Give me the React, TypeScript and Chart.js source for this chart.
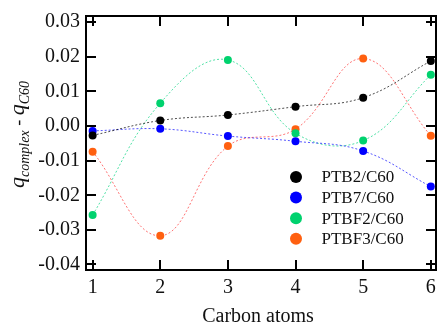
import React, { useEffect, useRef } from "react";
import { Chart, registerables } from "chart.js";

Chart.register(...registerables);

const carbonAtoms = [1, 2, 3, 4, 5, 6];
const ptb2 = [-0.0027, 0.0016, 0.0032, 0.0056, 0.0082, 0.0188];
const ptb7 = [-0.0014, -0.0008, -0.0029, -0.0044, -0.0072, -0.0175];
const ptbf2 = [-0.0257, 0.0066, 0.0191, -0.0021, -0.0042, 0.0148];
const ptbf3 = [-0.0074, -0.0317, -0.0058, -0.0009, 0.0195, -0.0028];

const seriesLabels = ["PTB2/C60", "PTB7/C60", "PTBF2/C60", "PTBF3/C60"];
const seriesValues = [ptb2, ptb7, ptbf2, ptbf3];
const pointColors = ["#000000", "#0000ff", "#00d26e", "#ff6010"];
const lineColors = [
  "rgba(0,0,0,0.7)",
  "rgba(30,30,255,0.75)",
  "rgba(50,220,150,0.85)",
  "rgba(255,80,80,0.8)",
];

const xTicks = [1, 2, 3, 4, 5, 6];
const yTicks = [-0.04, -0.03, -0.02, -0.01, 0, 0.01, 0.02, 0.03];
const xTitle = "Carbon atoms";

const SERIF = "'Liberation Serif', 'Times New Roman', serif";

const decorPlugin = {
  id: "decor",
  afterDatasetsDraw(chart: any) {
    const { ctx, chartArea } = chart;
    const { left, right, top, bottom } = chartArea;
    const xs = chart.scales.x;
    const ys = chart.scales.y;
    ctx.save();
    ctx.strokeStyle = "#000";
    ctx.lineWidth = 2;
    // inward ticks
    const tl = 10;
    ctx.beginPath();
    for (const v of xTicks) {
      const px = Math.round(xs.getPixelForValue(v));
      ctx.moveTo(px, bottom);
      ctx.lineTo(px, bottom - tl);
      ctx.moveTo(px, top);
      ctx.lineTo(px, top + tl);
    }
    for (const v of yTicks) {
      const py = Math.round(ys.getPixelForValue(v));
      ctx.moveTo(left, py);
      ctx.lineTo(left + tl, py);
      ctx.moveTo(right, py);
      ctx.lineTo(right - tl, py);
    }
    ctx.stroke();
    // frame
    ctx.strokeRect(left, top, right - left, bottom - top);

    // legend
    const lx = 296;
    const tx = 321.5;
    const ly0 = 177;
    const dy = 20.6;
    ctx.font = `17px ${SERIF}`;
    ctx.textBaseline = "middle";
    ctx.textAlign = "left";
    chart.data.datasets.forEach((ds: any, i: number) => {
      const y = ly0 + i * dy;
      ctx.fillStyle = ds.pointBackgroundColor;
      ctx.beginPath();
      ctx.arc(lx, y, 6, 0, Math.PI * 2);
      ctx.fill();
      ctx.fillStyle = "#111";
      ctx.fillText(ds.label, tx, y + 1);
    });

    // x title
    ctx.fillStyle = "#111";
    ctx.font = `20px ${SERIF}`;
    ctx.textAlign = "center";
    ctx.textBaseline = "alphabetic";
    ctx.fillText(xTitle, 258, 321.5);

    // y title: q_complex - q_C60 (rotated), scaled to a 117px span
    const base = [
      { t: "q", s: 22, it: true, dy: 0 },
      { t: "complex", s: 14, it: true, dy: 5 },
      { t: " - ", s: 18, it: false, dy: 0 },
      { t: "q", s: 22, it: true, dy: 0 },
      { t: "C60", s: 14, it: true, dy: 5 },
    ];
    const fontOf = (p: any, k: number) =>
      `${p.it ? "italic " : ""}${(p.s * k).toFixed(2)}px ${SERIF}`;
    let total0 = 0;
    base.forEach((p) => {
      ctx.font = fontOf(p, 1);
      total0 += ctx.measureText(p.t).width;
    });
    const k = Math.min(1, 117 / total0);
    let total = 0;
    const widths = base.map((p) => {
      ctx.font = fontOf(p, k);
      const w = ctx.measureText(p.t).width;
      total += w;
      return w;
    });
    ctx.translate(24, 134.5);
    ctx.rotate(-Math.PI / 2);
    ctx.textAlign = "left";
    let cx = -total / 2;
    base.forEach((p, i) => {
      ctx.font = fontOf(p, k);
      ctx.fillText(p.t, cx, p.dy * k);
      cx += widths[i];
    });
    ctx.restore();
  },
};

export default function App() {
  const ref = useRef<HTMLCanvasElement | null>(null);
  useEffect(() => {
    if (!ref.current) return;
    Chart.defaults.font.family = SERIF;
    const chart = new Chart(ref.current, {
      type: "line",
      data: {
        labels: carbonAtoms,
        datasets: seriesValues.map((vals, i) => ({
          label: seriesLabels[i],
          data: carbonAtoms.map((x, j) => ({ x, y: vals[j] })),
          borderColor: lineColors[i],
          borderWidth: 1,
          borderDash: [2, 2],
          pointBackgroundColor: pointColors[i],
          pointBorderColor: pointColors[i],
          pointBorderWidth: 0,
          pointRadius: 4,
          tension: 0.4,
          fill: false,
        })),
      },
      options: {
        animation: false,
        responsive: false,
        maintainAspectRatio: false,
        events: [],
        layout: { padding: { top: 16, right: 0, bottom: 0, left: 0 } },
        plugins: {
          legend: { display: false },
          tooltip: { enabled: false },
        },
        scales: {
          x: {
            type: "linear",
            min: 0.902,
            max: 6.077,
            grid: { display: false, drawTicks: false },
            border: { display: false },
            afterBuildTicks: (s: any) => {
              s.ticks = xTicks.map((v) => ({ value: v }));
            },
            afterFit: (s: any) => {
              s.height = 54;
              s.paddingLeft = 0;
              s.paddingRight = 0;
            },
            ticks: {
              color: "#111",
              font: { size: 20, family: SERIF },
              padding: 6,
              maxRotation: 0,
              autoSkip: false,
              callback: (v: any) => String(v),
            },
          },
          y: {
            type: "linear",
            min: -0.0416,
            max: 0.0318,
            grid: { display: false, drawTicks: false },
            border: { display: false },
            afterBuildTicks: (s: any) => {
              s.ticks = yTicks.map((v) => ({ value: v }));
            },
            afterFit: (s: any) => {
              s.width = 86;
              s.paddingTop = 0;
              s.paddingBottom = 0;
            },
            ticks: {
              color: "#111",
              font: { size: 20, family: SERIF },
              padding: 6,
              autoSkip: false,
              callback: (v: any) => Number(v).toFixed(2),
            },
          },
        },
      },
      plugins: [decorPlugin],
    } as any);
    return () => chart.destroy();
  }, []);
  return (
    <div style={{ position: "fixed", left: 0, top: 0, width: 440, height: 324, background: "#fff" }}>
      <canvas ref={ref} width={440} height={324} style={{ width: 440, height: 324, display: "block" }} />
    </div>
  );
}
